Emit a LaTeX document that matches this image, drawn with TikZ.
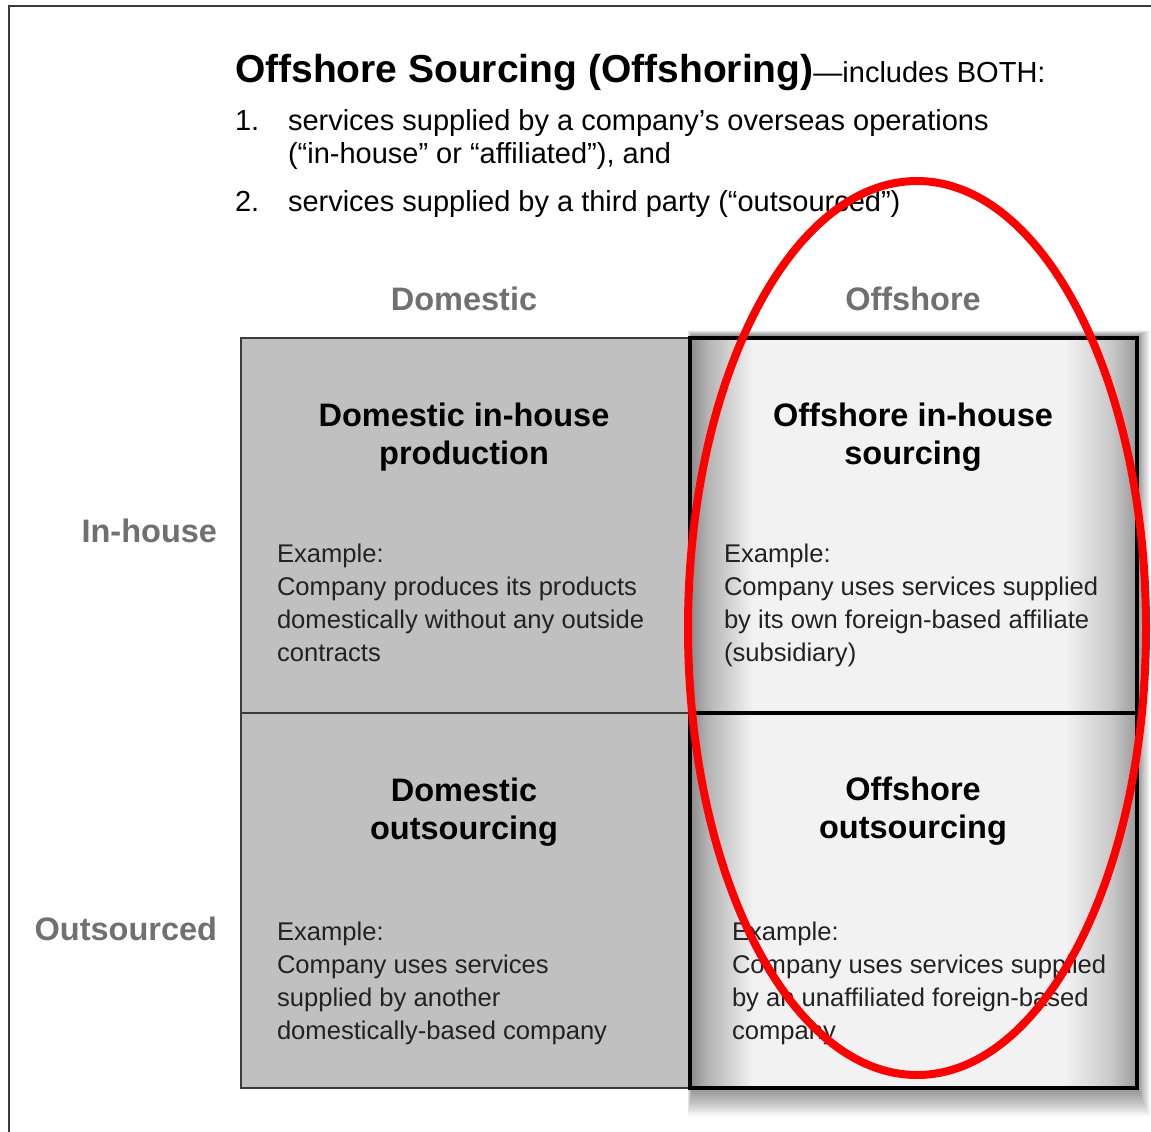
\documentclass[tikz,border=0pt]{standalone}
\usepackage{fontspec}
\setmainfont{Liberation Sans}

\definecolor{framecol}{HTML}{3A3A3A}
\definecolor{cellgray}{HTML}{C0C0C0}
\definecolor{celledge}{HTML}{3C3C3C}
\definecolor{headgray}{HTML}{707070}
\definecolor{bodytext}{HTML}{222222}
\definecolor{paper}{HTML}{F2F2F2}
\definecolor{edgeL}{HTML}{8A8A8A}
\definecolor{midL}{HTML}{B4B4B4}
\definecolor{midR}{HTML}{CACACA}
\definecolor{edgeR}{HTML}{9A9A9A}
\definecolor{markred}{HTML}{FF0000}

% light in the middle, darker towards both side walls
% (TikZ maps the path onto the band 25bp..75bp of the shading)
\pgfdeclarehorizontalshading{offshade}{100bp}{%
  color(0bp)=(edgeL); color(25bp)=(edgeL); color(27bp)=(midL); color(32bp)=(paper);
  color(67bp)=(paper); color(72bp)=(midR); color(75bp)=(edgeR); color(100bp)=(edgeR)}

\begin{document}
\begin{tikzpicture}[x=1pt,y=-1pt,
  every node/.style={inner sep=0pt, outer sep=0pt},
  header/.style={anchor=base, text=headgray, font=\fontsize{32.5}{38}\selectfont\bfseries},
  rowlabel/.style={anchor=base east, text=headgray, font=\fontsize{32.5}{38}\selectfont\bfseries},
  listtext/.style={anchor=base west, text=black, font=\fontsize{29}{33}\selectfont},
  domcell/.style={anchor=north west, draw=celledge, line width=1.4pt, fill=cellgray,
    minimum width=449pt, minimum height=375pt},
  offcell/.style={anchor=north west, draw=black, line width=3.5pt, shade, shading=offshade,
    minimum width=447pt, minimum height=375pt},
  celltitle/.style={anchor=north, align=center, text=black,
    font=\fontsize{32.5}{38}\selectfont\bfseries},
  example/.style={anchor=north west, align=left, text=bodytext,
    font=\fontsize{25.6}{33}\selectfont},
]
\useasboundingbox (0,0) rectangle (1151,1132);
\fill[white] (0,0) rectangle (1151,1132);

% page frame
\draw[framecol, line width=1.6pt] (9,1132) -- (9,6) -- (1151,6);

% heading and the two numbered points
\node[anchor=base west] (title) at (235,82)
  {\fontsize{39}{44}\selectfont\bfseries Offshore Sourcing (Offshoring)\fontsize{29}{33}\selectfont\mdseries—includes BOTH:};
\node[listtext] (num1) at (235,130) {1.};
\node[listtext] (item1a) at (288,130) {services supplied by a company’s overseas operations};
\node[listtext] (item1b) at (288,163) {(“in-house” or “affiliated”), and};
\node[listtext] (num2) at (235,211) {2.};
\node[listtext] (item2) at (288,211) {services supplied by a third party (“outsourced”)};

% column and row headings
\node[header] (hdom) at (464,310) {Domestic};
\node[header] (hoff) at (913,310) {Offshore};
\node[rowlabel] (rin) at (217,542) {In-house};
\node[rowlabel] (rout) at (217,940) {Outsourced};

% domestic column
\node[domcell] (dih) at (241,338) {};
\node[domcell] (dout) at (241,713) {};

% soft shadow under the offshore column
\foreach \k in {1,...,14}
  \fill[black, opacity=0.035] (692-0.3*\k,336-0.4*\k) rectangle (1137+0.9*\k,1088+2*\k);

% offshore column
\node[offcell] (oih) at (690,338) {};
\node[offcell] (oout) at (690,713) {};

% cell titles
\node[celltitle] (tdih) at (464,403) {Domestic in-house\\production};
\node[celltitle] (toih) at (913,403) {Offshore in-house\\sourcing};
\node[celltitle] (tdout) at (464,778) {Domestic\\outsourcing};
\node[celltitle] (toout) at (913,777) {Offshore\\outsourcing};

% examples
\node[example] (edih) at (277,544) {Example:\\Company produces its products\\domestically without any outside\\contracts};
\node[example] (eoih) at (724,544) {Example:\\Company uses services supplied\\by its own foreign-based affiliate\\(subsidiary)};
\node[example] (edout) at (277,922) {Example:\\Company uses services\\supplied by another\\domestically-based company};
\node[example] (eoout) at (732,922) {Example:\\Company uses services supplied\\by an unaffiliated foreign-based\\company};

% red mark round the offshore column
\draw[markred, line width=8pt] (917,628) ellipse [x radius=229, y radius=447];
\end{tikzpicture}
\end{document}
